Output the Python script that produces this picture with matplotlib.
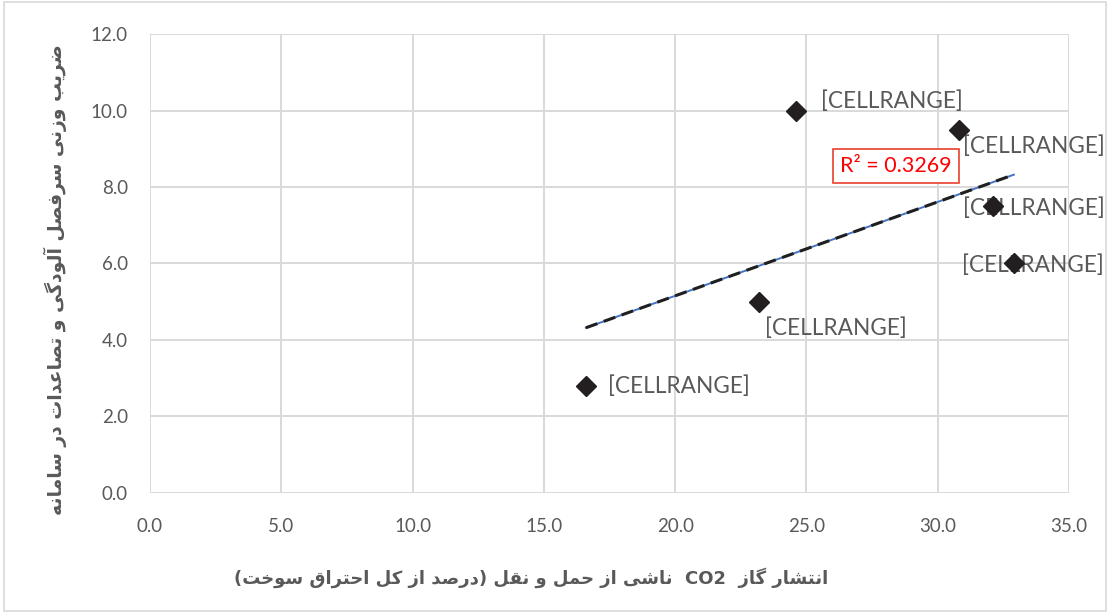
import re
import numpy as np
import matplotlib
matplotlib.use("Agg")
import matplotlib.pyplot as plt
from matplotlib.patches import Rectangle

# ====== data ======
co2_share = [16.6, 23.2, 24.6, 30.8, 32.1, 32.9]
weight = [2.8, 5.0, 10.0, 9.5, 7.5, 6.0]
point_labels = ["[CELLRANGE]"] * 6
r2_text = "R² = 0.3269"
x_ticks = [0, 5, 10, 15, 20, 25, 30, 35]
y_ticks = [0, 2, 4, 6, 8, 10, 12]
ylabel_fa = "ضریب وزنی سرفصل آلودگی و تصاعدات در سامانه"
xlabel_fa = "انتشار گاز  CO2  ناشی از حمل و نقل (درصد از کل احتراق سوخت)"

# label offsets in points (dx, dy)
offsets = [(16, 0), (4, -19), (18, 7), (3, -12), (-21.5, -1.5), (-37, -1.5)]

# ====== simple arabic/persian shaping ======
FORMS = {
    'ا': ('\uFE8D', '\uFE8E'), 'آ': ('\uFE81', '\uFE82'),
    'د': ('\uFEA9', '\uFEAA'), 'ذ': ('\uFEAB', '\uFEAC'),
    'ر': ('\uFEAD', '\uFEAE'), 'ز': ('\uFEAF', '\uFEB0'),
    'و': ('\uFEED', '\uFEEE'),
    'ب': ('\uFE8F', '\uFE90', '\uFE91', '\uFE92'),
    'ت': ('\uFE95', '\uFE96', '\uFE97', '\uFE98'),
    'ث': ('\uFE99', '\uFE9A', '\uFE9B', '\uFE9C'),
    'ج': ('\uFE9D', '\uFE9E', '\uFE9F', '\uFEA0'),
    'ح': ('\uFEA1', '\uFEA2', '\uFEA3', '\uFEA4'),
    'خ': ('\uFEA5', '\uFEA6', '\uFEA7', '\uFEA8'),
    'س': ('\uFEB1', '\uFEB2', '\uFEB3', '\uFEB4'),
    'ش': ('\uFEB5', '\uFEB6', '\uFEB7', '\uFEB8'),
    'ص': ('\uFEB9', '\uFEBA', '\uFEBB', '\uFEBC'),
    'ض': ('\uFEBD', '\uFEBE', '\uFEBF', '\uFEC0'),
    'ع': ('\uFEC9', '\uFECA', '\uFECB', '\uFECC'),
    'ف': ('\uFED1', '\uFED2', '\uFED3', '\uFED4'),
    'ق': ('\uFED5', '\uFED6', '\uFED7', '\uFED8'),
    'ک': ('\uFB8E', '\uFB8F', '\uFB90', '\uFB91'),
    'گ': ('\uFB92', '\uFB93', '\uFB94', '\uFB95'),
    'ل': ('\uFEDD', '\uFEDE', '\uFEDF', '\uFEE0'),
    'م': ('\uFEE1', '\uFEE2', '\uFEE3', '\uFEE4'),
    'ن': ('\uFEE5', '\uFEE6', '\uFEE7', '\uFEE8'),
    'ه': ('\uFEE9', '\uFEEA', '\uFEEB', '\uFEEC'),
    'ی': ('\uFBFC', '\uFBFD', '\uFBFE', '\uFBFF'),
}
DUAL = {k for k, v in FORMS.items() if len(v) == 4}


def shape(text):
    out = []
    for i, ch in enumerate(text):
        if ch not in FORMS:
            out.append(ch)
            continue
        prev = text[i - 1] if i > 0 else ''
        nxt = text[i + 1] if i < len(text) - 1 else ''
        jp = prev in DUAL
        jn = ch in DUAL and nxt in FORMS
        f = FORMS[ch]
        if jp and jn:
            out.append(f[3])
        elif jp:
            out.append(f[1])
        elif jn:
            out.append(f[2])
        else:
            out.append(f[0])
    return ''.join(out)


def rtl(text):
    # right-to-left line, latin runs kept in order, brackets mirrored
    s = shape(text)[::-1]
    s = re.sub('[A-Za-z0-9]+', lambda m: m.group()[::-1], s)
    return s.translate(str.maketrans('()', ')('))


# ====== figure ======
gray = '#595959'
fig = plt.figure(figsize=(11.08, 6.14), dpi=100)
ax = fig.add_axes([0.1354, 0.1971, 0.8294, 0.7475])

ax.set_xlim(0, 35)
ax.set_ylim(0, 12)
ax.set_xticks(x_ticks)
ax.set_yticks(y_ticks)
ax.xaxis.set_major_formatter(matplotlib.ticker.FormatStrFormatter('%.1f'))
ax.yaxis.set_major_formatter(matplotlib.ticker.FormatStrFormatter('%.1f'))
ax.tick_params(length=0, labelsize=13.5, labelcolor=gray)
ax.tick_params(axis='y', pad=16)
ax.tick_params(axis='x', pad=18)
for lb in ax.get_xticklabels() + ax.get_yticklabels():
    lb.set_family('Lato')
for s in ax.spines.values():
    s.set_visible(False)
ax.grid(True, color='#d9d9d9', lw=1.4)
ax.set_axisbelow(True)

# trend line
k, b = np.polyfit(co2_share, weight, 1)
xt = np.array([min(co2_share), max(co2_share)])
ax.plot(xt, k * xt + b, color='#4472c4', lw=1.4, zorder=2)
ax.plot(xt, k * xt + b, color='#1f1f1f', lw=2.2, dashes=(4, 2.2), zorder=2.1)

ax.plot(co2_share, weight, 'D', color='#231f20', ms=10.5, zorder=4)

for xv, yv, lab, off in zip(co2_share, weight, point_labels, offsets):
    ax.annotate(lab, (xv, yv), xytext=off, textcoords='offset points',
                ha='left', va='center', fontsize=16.3, color=gray,
                family='Lato', annotation_clip=False, zorder=3)

ax.text(28.4, 8.55, r2_text, ha='center', va='center', fontsize=15.5,
        color='#ff0000', family='Lato', zorder=5,
        bbox=dict(boxstyle='square,pad=0.33', fc='white', ec='#e8402a', lw=1.2))

fig.text(55 / 1108, 1 - 280 / 614, rtl(ylabel_fa), rotation=90,
         ha='center', va='center', fontsize=13.5, fontweight='bold',
         color=gray, family='DejaVu Sans')
fig.text(531 / 1108, 1 - 578 / 614, rtl(xlabel_fa),
         ha='center', va='center', fontsize=13, fontweight='bold',
         color=gray, family='DejaVu Sans')

fig.patches.append(Rectangle((0.004, 0.005), 0.994, 0.992, transform=fig.transFigure,
                             fill=False, ec='#d9d9d9', lw=1.2))

fig.savefig('out.png', dpi=100)
